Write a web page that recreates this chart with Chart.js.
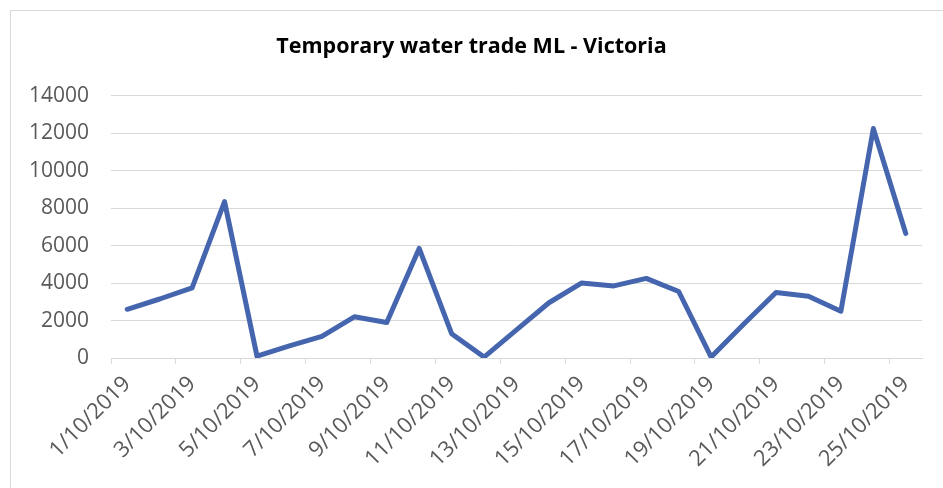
<!DOCTYPE html>
<html>
<head>
<meta charset="utf-8">
<script src="https://cdn.jsdelivr.net/npm/chart.js@4.4.0/dist/chart.umd.min.js"></script>
<style>
    body { margin: 0; background: #fff; }
    #wrap { position: relative; width: 943px; height: 488px; overflow: hidden; }
    #frame { position: absolute; left: 10px; top: 10px; width: 1200px; height: 1200px; border: 1px solid #d9d9d9; }
    #myChart { position: absolute; left: 0; top: 0; }
</style>
</head>
<body>
<div id="wrap">
    <div id="frame"></div>
    <canvas id="myChart" width="943" height="488"></canvas>
</div>
<script>
let chartTitle = 'Temporary water trade ML - Victoria';

let dates = [
    '1/10/2019', '2/10/2019', '3/10/2019', '4/10/2019', '5/10/2019',
    '6/10/2019', '7/10/2019', '8/10/2019', '9/10/2019', '10/10/2019',
    '11/10/2019', '12/10/2019', '13/10/2019', '14/10/2019', '15/10/2019',
    '16/10/2019', '17/10/2019', '18/10/2019', '19/10/2019', '20/10/2019',
    '21/10/2019', '22/10/2019', '23/10/2019', '24/10/2019', '25/10/2019'
];

let tradeML = [
    2600, 3150, 3750, 8350, 100,
    650, 1150, 2200, 1900, 5850,
    1300, 50, 1500, 2950, 4000,
    3850, 4250, 3550, 50, 1800,
    3500, 3300, 2500, 12250, 6650
];

let yTicks = [0, 2000, 4000, 6000, 8000, 10000, 12000, 14000];

// ================================================================== Chart
function setChart() {
    let ctx = document.getElementById('myChart');

    new Chart(ctx, {
        type: 'line',
        data: {
            labels: dates,
            datasets: [{
                data: tradeML,
                borderColor: '#4566AE',
                borderWidth: 5,
                borderJoinStyle: 'round',
                borderCapStyle: 'round',
                pointRadius: 0,
                pointHoverRadius: 0,
                tension: 0,
                fill: false
            }]
        },
        options: {
            responsive: false,
            animation: false,
            events: [],
            layout: {
                padding: { left: 21, right: 21, top: 10, bottom: 0 }
            },
            plugins: {
                legend: { display: false },
                tooltip: { enabled: false },
                title: {
                    display: true,
                    text: chartTitle,
                    color: '#000000',
                    font: { family: 'Open Sans', size: 21.5, weight: 'bold' },
                    padding: { top: 24, bottom: 36 }
                }
            },
            scales: {
                x: {
                    offset: true,
                    afterFit: function (scale) { scale.height = 130; },
                    grid: {
                        offset: true,
                        drawOnChartArea: false,
                        drawTicks: true,
                        tickLength: 6,
                        color: function (c) {
                            return (c.index !== undefined && c.index % 2 == 0) ? '#d9d9d9' : 'rgba(0,0,0,0)';
                        }
                    },
                    border: { display: true, color: '#d9d9d9', width: 1 },
                    ticks: {
                        autoSkip: false,
                        maxRotation: 45,
                        minRotation: 45,
                        padding: 7,
                        color: '#595959',
                        font: { family: 'Open Sans', size: 22 },
                        callback: function (value, index) {
                            return index % 2 == 0 ? dates[index] : '';
                        }
                    }
                },
                y: {
                    min: yTicks[0],
                    max: yTicks[yTicks.length - 1],
                    afterFit: function (scale) { scale.width = 90; },
                    grid: {
                        color: '#d9d9d9',
                        lineWidth: 1,
                        drawTicks: false
                    },
                    border: { display: false },
                    ticks: {
                        stepSize: yTicks[1] - yTicks[0],
                        padding: 22,
                        color: '#595959',
                        font: { family: 'Open Sans', size: 21 },
                        callback: function (value) {
                            return String(value);
                        }
                    }
                }
            }
        }
    });
}

setChart();
</script>
</body>
</html>
